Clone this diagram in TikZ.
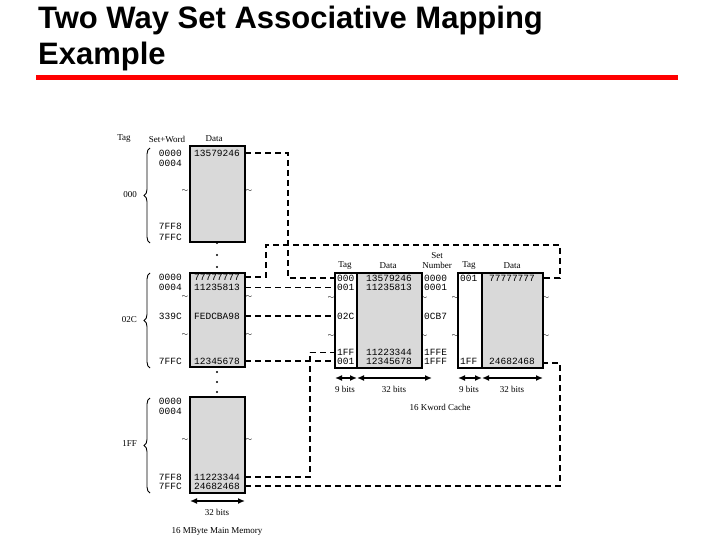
\documentclass[tikz,border=0pt]{standalone}
\usepackage{fontspec}
\setmainfont{Liberation Serif}
\setsansfont{Liberation Sans}
\setmonofont{Liberation Mono}
\usetikzlibrary{arrows.meta,decorations.pathreplacing}
\begin{document}
\begin{tikzpicture}[x=1pt,y=-1pt,
  mem/.style={draw,line width=1.4pt,fill=black!15},
  wbox/.style={draw,line width=1.4pt,fill=white},
  mono/.style={font=\fontsize{9.5}{10}\ttfamily,inner sep=0pt},
  lab/.style={font=\fontsize{9}{10}\selectfont,inner sep=0pt},
  thk/.style={line width=1.3pt,dash pattern=on 6pt off 4pt},
  thn/.style={line width=0.6pt,dash pattern=on 6pt off 4pt},
  brc/.style={decorate,decoration={brace,amplitude=6pt},line width=0.9pt},
  dim/.style={{Latex[length=7pt,width=6pt]}-{Latex[length=7pt,width=6pt]},line width=1.4pt},
  tld/.style={font=\fontsize{8}{8}\selectfont,inner sep=0pt},
  dot/.style={circle,fill,inner sep=0pt,minimum size=2.2pt}]
\useasboundingbox (0,0) rectangle (720,540);
\node[anchor=north west,align=left,font=\sffamily\bfseries\fontsize{31}{36}\selectfont,inner sep=0pt] (title) at (38,6) {Two Way Set Associative Mapping\\Example};
\draw[red,line width=5pt] (36,78) -- (678,78);
% main memory
\node[lab] (h1) at (124,139) {Tag};
\node[lab] (h2) at (167,139) {Set+Word};
\node[lab] (h3) at (214,139) {Data};
\draw[mem] (190,146) rectangle (245,242);
\draw[mem] (190,273) rectangle (245,367);
\draw[mem] (190,397) rectangle (245,493);
\foreach \y in {243,255,267,372,382,392} \node[dot] at (217,\y) {};
\foreach \t/\y in {0000/153,0004/163,7FF8/226,7FFC/237,0000/277,0004/287,339C/316,7FFC/361,0000/401,0004/411,7FF8/477,7FFC/486}
  \node[mono,anchor=east] at (182,\y) {\t};
\foreach \t/\y in {13579246/153,77777777/277,11235813/287,FEDCBA98/316,12345678/361,11223344/477,24682468/486}
  \node[mono] at (217,\y) {\t};
\draw[brc] (150,243) -- (150,148);
\draw[brc] (150,368) -- (150,273);
\draw[brc] (150,493) -- (150,398);
\node[lab,anchor=east] (t0) at (137,195) {000};
\node[lab,anchor=east] (t1) at (137,320) {02C};
\node[lab,anchor=east] (t2) at (137,444) {1FF};
\foreach \x/\y in {185/191,249/191,185/297,249/297,185/335,249/335,185/440,249/440,331/298,331/336,424/298,424/336,455/298,455/336,546/298,546/336}
  \node[tld] at (\x,\y) {$\sim$};
\draw[dim] (190,501) -- (245,501);
\node[lab] (m32) at (217,512) {32 bits};
\node[lab] (mm) at (217,531) {16 MByte Main Memory};
% cache
\draw[wbox] (335,273) rectangle (357,368);
\draw[mem] (357,273) rectangle (422,368);
\draw[wbox] (458,273) rectangle (482,368);
\draw[mem] (482,273) rectangle (543,368);
\node[lab] (c1) at (345,266) {Tag};
\node[lab] (c2) at (388,266) {Data};
\node[lab,align=center] (c3) at (437,261) {Set\\Number};
\node[lab] (c4) at (469,266) {Tag};
\node[lab] (c5) at (512,266) {Data};
\foreach \t/\y in {000/278,001/287,02C/316,1FF/352,001/361}
  \node[mono,anchor=west] at (337,\y) {\t};
\foreach \t/\y in {13579246/278,11235813/287,11223344/352,12345678/361}
  \node[mono] at (389,\y) {\t};
\foreach \t/\y in {0000/278,0001/287,0CB7/316,1FFE/352,1FFF/361}
  \node[mono,anchor=west] at (424,\y) {\t};
\node[mono,anchor=west] at (460,278) {001};
\node[mono,anchor=west] at (460,361) {1FF};
\node[mono] at (512,278) {77777777};
\node[mono] at (512,361) {24682468};
\draw[dim] (335,378) -- (357,378);
\draw[dim] (357,378) -- (432,378);
\draw[dim] (458,378) -- (482,378);
\draw[dim] (482,378) -- (543,378);
\node[lab] at (345,389) {9 bits};
\node[lab] at (394,389) {32 bits};
\node[lab] at (469,389) {9 bits};
\node[lab] at (512,389) {32 bits};
\node[lab] (kc) at (440,407) {16 Kword Cache};
% connectors
\draw[thk] (245,153) -- (288,153) -- (288,278) -- (335,278);
\draw[thk] (245,277) -- (266,277) -- (266,245) -- (560,245) -- (560,278) -- (543,278);
\draw[thn] (245,287) -- (335,287);
\draw[thk] (245,316) -- (335,316);
\draw[thk] (245,361) -- (335,361);
\draw[thk] (245,477) -- (310,477) -- (310,352);
\draw[thn] (310,352) -- (335,352);
\draw[thk] (245,486) -- (560,486) -- (560,363) -- (543,363);
\end{tikzpicture}
\end{document}
